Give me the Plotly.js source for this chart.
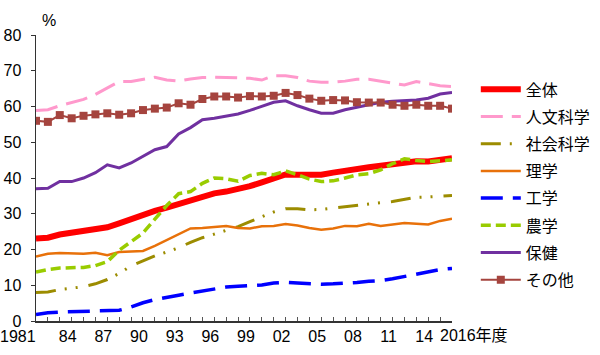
<!DOCTYPE html>
<html>
<head>
<meta charset="utf-8">
<script src="https://cdn.plot.ly/plotly-3.0.1.min.js"></script>
<style>html,body{margin:0;padding:0;background:#fff;}#chart{width:600px;height:355px;}</style>
</head>
<body>
<div id="chart"></div>
<script>
const years = [1981,1982,1983,1984,1985,1986,1987,1988,1989,1990,1991,1992,1993,1994,1995,1996,1997,1998,1999,2000,2001,2002,2003,2004,2005,2006,2007,2008,2009,2010,2011,2012,2013,2014,2015,2016];

const seriesNames = ["全体","人文科学","社会科学","理学","工学","農学","保健","その他"];

const total      = [23.1,23.3,24.2,24.7,25.0,25.4,26.2,27.3,28.6,29.9,30.8,31.7,32.8,33.8,34.8,35.7,36.2,36.8,37.7,38.8,40.1,41.0,40.9,40.8,40.9,41.5,42.1,42.6,43.0,43.4,43.9,44.3,44.7,44.6,45.0,45.5];
const humanities = [58.9,59.1,60.2,61.1,62.0,63.4,65.1,67.0,67.0,67.6,68.2,67.4,67.1,67.7,68.1,68.2,68.2,68.0,67.9,67.4,68.6,68.6,68.1,67.1,66.8,66.8,67.1,67.6,67.6,67.1,66.5,66.0,67.0,66.3,65.8,65.6];
const social     = [8.0,8.1,8.8,9.3,9.6,10.4,11.6,13.3,15.4,16.8,18.2,19.3,20.5,22.0,23.3,24.3,25.4,26.4,27.8,29.2,30.5,31.4,31.4,31.1,31.2,31.6,32.0,32.3,32.9,33.1,33.4,33.9,34.6,34.7,35.0,35.1];
const science    = [18.0,18.8,19.0,19.0,18.8,19.1,18.4,19.3,19.5,19.6,21.0,22.6,24.4,25.9,26.0,26.3,26.6,26.0,25.9,26.5,26.6,27.1,26.7,26.0,25.5,25.9,26.6,26.5,27.2,26.6,27.0,27.4,27.2,27.0,28.0,28.6];
const engineering= [1.8,2.3,2.5,2.6,2.6,2.7,2.7,3.0,3.9,5.1,6.0,6.7,7.2,7.8,8.3,9.0,9.5,9.7,9.9,10.1,10.6,10.8,10.6,10.4,10.3,10.4,10.5,10.8,11.1,11.3,11.8,12.5,13.2,13.7,14.4,14.7];
const agriculture= [13.7,14.4,14.8,15.0,15.0,15.5,16.6,19.8,22.2,24.6,28.5,32.3,35.6,36.2,38.5,40.0,39.8,39.1,40.7,41.3,40.9,42.0,40.9,39.7,39.0,39.2,40.0,40.9,41.2,42.3,44.0,45.4,44.9,44.6,44.8,45.1];
const health     = [37.0,37.1,39.0,39.0,40.0,41.5,43.7,42.8,44.2,46.0,47.9,48.8,52.3,54.1,56.3,56.7,57.2,57.9,58.9,60.0,61.2,61.6,60.2,59.1,58.1,58.1,59.1,59.8,60.4,61.2,61.5,61.6,61.8,62.3,63.5,63.9];
const other      = [56.0,55.7,57.6,56.7,57.4,57.8,58.1,57.7,58.1,59.0,59.4,59.7,60.9,60.5,62.1,62.8,62.8,62.5,62.9,62.8,63.0,63.8,63.2,62.2,61.6,61.8,61.7,61.2,61.1,61.1,60.5,60.2,60.5,60.2,60.2,59.4];

const xTickVals = [1984,1987,1990,1993,1996,1999,2002,2005,2008,2011,2014];
const xTickText = ["84","87","90","93","96","99","02","05","08","11","14"];
const yTickVals = [0,10,20,30,40,50,60,70,80];
const firstLabel = "1981";
const lastLabel = "2016年度";
const yUnit = "%";

const values = [total, humanities, social, science, engineering, agriculture, health, other];
const styles = [
  {color:"#FF0000", width:6, dash:"solid"},
  {color:"#FF99CC", width:3, dash:"22px,9px"},
  {color:"#9C8C00", width:3, dash:"20px,9px,2px,9px,2px,11px"},
  {color:"#E8710A", width:2.5, dash:"solid"},
  {color:"#0000FF", width:3.5, dash:"22px,10px"},
  {color:"#99CC00", width:3.5, dash:"10px,5px"},
  {color:"#7030A0", width:3, dash:"solid"},
  {color:"#A5443E", width:2, dash:"solid"}
];

const FONT = "'Liberation Sans', Arial, 'Noto Sans CJK JP', sans-serif";
const JFONT = "'Noto Sans CJK JP', 'Liberation Sans', sans-serif";

const traces = values.map((v, i) => {
  const t = {
    x: years, y: v, name: seriesNames[i], type: "scatter",
    mode: i === 7 ? "lines+markers" : "lines",
    line: {color: styles[i].color, width: styles[i].width, dash: styles[i].dash},
    legendgroup: "g" + i,
    hoverinfo: "x+y+name"
  };
  if (i === 7) t.marker = {symbol: "square", size: 8, color: styles[i].color};
  return t;
});

const layout = {
  width: 600, height: 355,
  margin: {l: 36, r: 148, t: 35, b: 34},
  paper_bgcolor: "#fff", plot_bgcolor: "#fff",
  font: {family: FONT, size: 16, color: "#000"},
  showlegend: true,
  legend: {
    xref: "container", yref: "container",
    x: 0.793, y: 0.796, xanchor: "left", yanchor: "top",
    font: {family: JFONT, size: 16, color: "#000"},
    tracegroupgap: 3.4, itemwidth: 40,
    maxheight: 340,
    bgcolor: "rgba(0,0,0,0)"
  },
  xaxis: {
    range: [1981, 2016], showgrid: false, zeroline: false,
    showline: true, linecolor: "#333", linewidth: 1.5,
    tickmode: "array", tickvals: xTickVals, ticktext: xTickText,
    ticks: "inside", ticklen: 4, tickwidth: 1, tickcolor: "#555",
    ticklabelshift: -4,
    minor: {dtick: 1, tick0: 1981, ticks: "inside", ticklen: 4, tickwidth: 1, tickcolor: "#555", showgrid: false},
    tickfont: {family: FONT, size: 16, color: "#000"}
  },
  yaxis: {
    range: [0, 80], showgrid: false, zeroline: false,
    showline: true, linecolor: "#333", linewidth: 1.5,
    tickmode: "array", tickvals: yTickVals,
    ticks: "outside", ticklen: 4, tickwidth: 1, tickcolor: "#333",
    ticklabelstandoff: 6,
    tickfont: {family: FONT, size: 16, color: "#000"}
  },
  annotations: [
    {text: firstLabel, xref: "x", x: years[0], yref: "paper", y: 0, xanchor: "right", yanchor: "top", xshift: 1, yshift: -6, borderpad: 0, showarrow: false, font: {family: FONT, size: 16, color: "#000"}},
    {text: lastLabel, xref: "x", x: years[years.length-1], yref: "paper", y: 0, xanchor: "left", yanchor: "top", xshift: -14, yshift: -4, showarrow: false, font: {family: FONT, size: 16, color: "#000"}},
    {text: yUnit, xref: "paper", x: 0, yref: "paper", y: 1, xanchor: "left", yanchor: "bottom", xshift: 4, yshift: 4, showarrow: false, font: {family: FONT, size: 16, color: "#000"}}
  ]
};

Plotly.newPlot("chart", traces, layout, {displayModeBar: false, staticPlot: true});
</script>
</body>
</html>
